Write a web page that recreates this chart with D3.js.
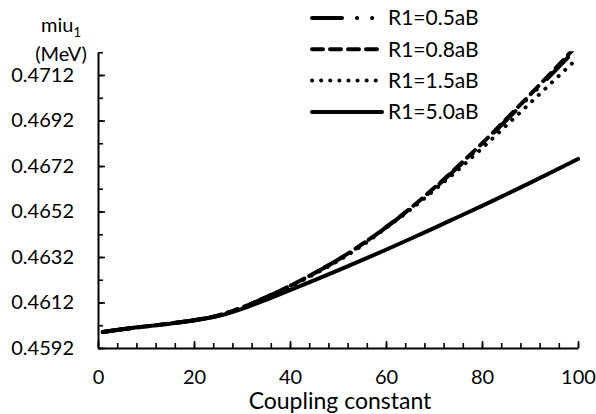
<!DOCTYPE html>
<html>
<head>
  <script src="https://d3js.org/d3.v7.min.js"></script>
  <style>
    body { margin: 0; background: #fff; }
    svg { display: block; }
    .axis path, .axis line { stroke: #000; }
    .axis path { stroke-width: 2px; }
    .axis line { stroke-width: 1.6px; }
    .axis text { fill: #000; font-family: Lato, sans-serif; font-size: 20px; }
    .label { fill: #000; font-family: Lato, sans-serif; font-size: 20px; }
    .curve { fill: none; stroke: #000; stroke-width: 4; stroke-linecap: round; stroke-linejoin: round; }
  </style>
</head>
<body>
  <svg id="chart" width="596" height="414"></svg>
  <script>
    // coupling constant (x) samples
    var coupling = [1, 5, 10, 15, 20, 25, 30, 35, 40, 45, 50, 55, 60, 65, 70, 75, 80, 85, 90, 95, 100];

    // miu1 (MeV) for each R1
    var r05 = [0.45990, 0.46002, 0.46015, 0.46028, 0.46042, 0.46063, 0.46098, 0.46143, 0.46193, 0.46248,
               0.46308, 0.46376, 0.46450, 0.46531, 0.46620, 0.46715, 0.46814, 0.46920, 0.47026, 0.47134, 0.47243];
    var r08 = [0.45990, 0.46002, 0.46015, 0.46028, 0.46042, 0.46063, 0.46098, 0.46143, 0.46193, 0.46248,
               0.46308, 0.46376, 0.46451, 0.46533, 0.46623, 0.46719, 0.46819, 0.46925, 0.47033, 0.47143, 0.47255];
    var r15 = [0.45990, 0.46002, 0.46015, 0.46028, 0.46042, 0.46062, 0.46097, 0.46141, 0.46190, 0.46244,
               0.46303, 0.46370, 0.46448, 0.46527, 0.46613, 0.46703, 0.46798, 0.46897, 0.46996, 0.47096, 0.47196];
    var r50 = [0.45990, 0.46002, 0.46015, 0.46027, 0.46041, 0.46060, 0.46092, 0.46132, 0.46174, 0.46217,
               0.46261, 0.46306, 0.46352, 0.46399, 0.46447, 0.46496, 0.46545, 0.46595, 0.46646, 0.46698, 0.46751];

    var seriesNames = ["R1=0.5aB", "R1=0.8aB", "R1=1.5aB", "R1=5.0aB"];
    var seriesValues = [r05, r08, r15, r50];
    var dashes = ["30,15,0.1,15,0.1,15", "11,7", "0.1,9", null];

    var xMajor = [0, 20, 40, 60, 80, 100];
    var xMinor = d3.range(0, 101, 4);
    var yMajor = [0.4592, 0.4612, 0.4632, 0.4652, 0.4672, 0.4692, 0.4712];
    var yMinor = d3.range(0, 14).map(function(i) { return 0.4592 + i * 0.001; });

    var svg = d3.select("#chart");

    var x = d3.scaleLinear().domain([0, 100]).range([98, 578]);
    var y = d3.scaleLinear().domain([0.4592, 0.4722]).range([348, 52.25]);

    // minor ticks first, then major with labels
    svg.append("g")
      .attr("class", "axis")
      .attr("transform", "translate(0," + y(0.4592) + ")")
      .call(d3.axisBottom(x).tickValues(xMinor).tickSizeInner(-5).tickSizeOuter(0).tickFormat(""));

    svg.append("g")
      .attr("class", "axis")
      .attr("transform", "translate(" + x(0) + ",0)")
      .call(d3.axisLeft(y).tickValues(yMinor).tickSizeInner(-5).tickSizeOuter(0).tickFormat(""));

    svg.append("g")
      .attr("class", "axis")
      .attr("transform", "translate(0," + y(0.4592) + ")")
      .call(d3.axisBottom(x).tickValues(xMajor).tickSizeInner(-7).tickSizeOuter(0).tickPadding(22).tickFormat(d3.format("d")))
      .select(".domain").remove();

    svg.append("g")
      .attr("class", "axis")
      .attr("transform", "translate(" + x(0) + ",0)")
      .call(d3.axisLeft(y).tickValues(yMajor).tickSizeInner(-7).tickSizeOuter(0).tickPadding(24).tickFormat(d3.format(".4f")))
      .select(".domain").remove();

    svg.append("clipPath").attr("id", "plot")
      .append("rect")
      .attr("x", x(0)).attr("y", y(0.4722) - 1)
      .attr("width", x(100) - x(0) + 4).attr("height", y(0.4592) - y(0.4722) + 1);

    var line = d3.line()
      .curve(d3.curveMonotoneX)
      .x(function(d, i) { return x(coupling[i]); })
      .y(function(d) { return y(d); });

    svg.append("g").attr("clip-path", "url(#plot)")
      .selectAll("path")
      .data(seriesValues)
      .join("path")
      .attr("class", "curve")
      .attr("d", line)
      .attr("stroke-dasharray", function(d, i) { return dashes[i]; });

    // legend
    var legend = svg.append("g").selectAll("g")
      .data(seriesNames)
      .join("g")
      .attr("transform", function(d, i) { return "translate(312," + (18 + i * 31.3) + ")"; });

    legend.append("line")
      .attr("class", "curve")
      .attr("x1", 0).attr("x2", 70)
      .attr("stroke-dasharray", function(d, i) { return dashes[i]; });

    legend.append("text")
      .attr("class", "label")
      .attr("x", 76)
      .attr("dy", "0.35em")
      .style("font-size", "21px")
      .text(function(d) { return d; });

    // axis titles
    var yt = svg.append("text").attr("class", "label")
      .attr("x", 61).attr("y", 32).attr("text-anchor", "middle");
    yt.append("tspan").text("miu");
    yt.append("tspan").attr("dy", 5).style("font-size", "13px").text("1");

    svg.append("text").attr("class", "label")
      .attr("x", 61).attr("y", 61).attr("text-anchor", "middle")
      .text("(MeV)");

    svg.append("text").attr("class", "label")
      .attr("x", 340).attr("y", 409).attr("text-anchor", "middle")
      .style("font-size", "23px")
      .text("Coupling constant");
  </script>
</body>
</html>
